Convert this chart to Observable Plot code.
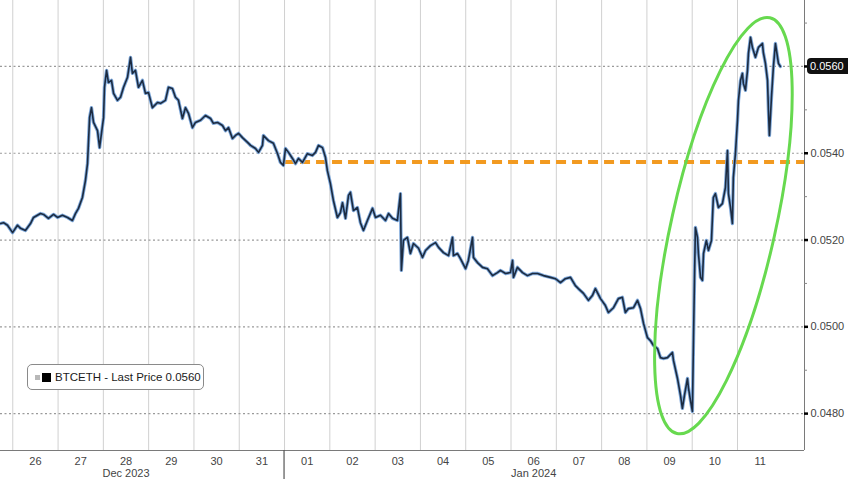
<!DOCTYPE html>
<html><head><meta charset="utf-8">
<script src="https://cdn.jsdelivr.net/npm/d3@7"></script>
<script src="https://cdn.jsdelivr.net/npm/@observablehq/plot@0.6"></script>
<style>
body{margin:0;background:#fff;}
#wrap{position:relative;width:848px;height:479px;overflow:hidden;font-family:"Liberation Sans",Arial,sans-serif;background:#fff;}
#legend{position:absolute;left:27px;top:364px;width:177px;height:26px;border:1.5px solid #8a8a8a;border-radius:5px;background:#fff;box-sizing:border-box;display:flex;align-items:center;font-size:11.5px;color:#1a1a1a;white-space:nowrap;}
#legend .sq1{display:inline-block;width:5px;height:5px;background:#b8b8b8;margin-left:7px;}
#legend .sq2{display:inline-block;width:9px;height:9px;background:#000;margin-left:2px;}
#legend .lab{margin-left:4px;}
</style></head>
<body><div id="wrap"></div>
<script>
// ---- data ----
const seriesName = "BTCETH";
const seriesStart = "2023-12-25T00:00:00Z";
const hours = [17.5,19.1,21.2,23.9,26.5,28.1,30.7,33.4,35.0,38.7,40.3,42.9,45.6,47.7,50.3,53.0,55.6,57.2,58.8,60.9,
62.5,63.6,64.7,65.7,66.8,68.9,70.0,71.0,72.1,72.6,73.7,74.7,76.3,77.4,79.5,81.1,82.7,84.8,86.4,87.4,
89.0,90.6,92.7,94.3,95.9,98.0,100.7,102.3,104.9,106.5,108.6,110.2,111.8,113.9,115.5,117.1,119.2,120.8,123.5,126.1,
128.8,130.3,132.5,135.1,136.7,138.3,140.4,142.0,143.6,145.7,148.4,150.0,152.6,154.2,156.3,156.8,157.9,159.5,162.1,164.3,
165.8,167.4,168.5,170.1,172.2,173.8,175.4,177.5,180.1,182.8,184.4,186.0,188.1,189.7,190.7,192.3,193.9,196.0,197.6,198.7,
200.3,201.9,202.9,204.5,206.6,208.2,209.8,211.9,214.6,216.2,218.8,221.5,223.1,225.2,227.8,229.4,229.9,231.0,233.1,234.7,
236.3,239.0,241.1,242.7,245.3,248.0,249.6,252.2,254.9,257.0,257.5,259.6,261.2,263.9,265.4,267.6,268.1,270.2,272.9,275.5,
278.2,280.8,282.4,285.1,287.7,288.8,289.3,291.4,294.1,296.7,299.4,302.0,305.2,308.9,311.5,314.2,316.8,319.5,322.1,323.7,
326.4,329.0,331.1,332.7,335.4,338.0,339.6,342.3,344.9,347.0,348.6,350.2,352.9,355.0,356.6,358.2,360.3,361.9,363.5,365.6,
367.2,368.8,370.9,373.5,374.1,376.2,377.8,378.8,379.9,381.5,382.0,383.1,384.1,384.7,385.2,385.7,386.8,387.3,388.4,389.4,
390.0,391.5,392.6,394.2,395.2,396.3,397.9,400.0,401.6,402.7,403.2,404.3,405.3,405.8,406.9,408.0,408.5,409.6,410.6,411.1,
412.2,413.3,413.8,414.9,415.9,417.5,419.1,421.2,421.7,422.8,423.9,424.4,424.9,426.0,427.0,428.1,429.2,429.7,430.7];
const btceth = [0.05238,0.05240,0.05234,0.05217,0.05234,0.05227,0.05222,0.05238,0.05252,0.05261,0.05259,0.05250,0.05259,0.05252,0.05257,0.05252,0.05245,0.05261,0.05273,0.05298,
0.05337,0.05376,0.05482,0.05505,0.05471,0.05452,0.05413,0.05446,0.05482,0.05552,0.05591,0.05563,0.05568,0.05538,0.05522,0.05529,0.05552,0.05575,0.05621,0.05584,
0.05591,0.05552,0.05568,0.05538,0.05540,0.05505,0.05517,0.05515,0.05522,0.05552,0.05549,0.05529,0.05522,0.05480,0.05505,0.05492,0.05459,0.05471,0.05476,0.05487,
0.05480,0.05469,0.05471,0.05464,0.05452,0.05459,0.05434,0.05441,0.05446,0.05436,0.05425,0.05418,0.05411,0.05402,0.05418,0.05441,0.05436,0.05429,0.05423,0.05399,
0.05379,0.05372,0.05411,0.05402,0.05388,0.05376,0.05388,0.05379,0.05399,0.05395,0.05402,0.05418,0.05413,0.05390,0.05360,0.05330,0.05291,0.05252,0.05263,0.05286,
0.05250,0.05303,0.05310,0.05268,0.05275,0.05240,0.05222,0.05245,0.05273,0.05252,0.05257,0.05245,0.05261,0.05250,0.05245,0.05307,0.05130,0.05199,0.05206,0.05169,
0.05192,0.05181,0.05160,0.05176,0.05187,0.05194,0.05183,0.05171,0.05164,0.05206,0.05164,0.05169,0.05157,0.05134,0.05153,0.05206,0.05160,0.05148,0.05137,0.05134,
0.05118,0.05125,0.05130,0.05123,0.05125,0.05153,0.05114,0.05137,0.05125,0.05118,0.05123,0.05123,0.05118,0.05114,0.05111,0.05102,0.05111,0.05114,0.05095,0.05088,
0.05077,0.05061,0.05072,0.05088,0.05065,0.05049,0.05033,0.05044,0.05065,0.05068,0.05033,0.05042,0.05044,0.05061,0.05042,0.05008,0.04975,0.04968,0.04957,0.04950,
0.04929,0.04927,0.04929,0.04941,0.04922,0.04881,0.04842,0.04812,0.04842,0.04881,0.04860,0.04830,0.04805,0.04975,0.05107,0.05229,0.05206,0.05169,0.05114,0.05107,
0.05169,0.05199,0.05176,0.05199,0.05298,0.05307,0.05275,0.05284,0.05321,0.05406,0.05307,0.05275,0.05238,0.05344,0.05399,0.05476,0.05522,0.05568,0.05584,0.05561,
0.05545,0.05591,0.05630,0.05667,0.05644,0.05621,0.05644,0.05653,0.05632,0.05607,0.05568,0.05499,0.05441,0.05529,0.05598,0.05653,0.05621,0.05607,0.05600];
const yTicks = [0.048, 0.050, 0.052, 0.054, 0.056];
const yMinorTicks = [0.049, 0.051, 0.053, 0.055, 0.057];
const refLevel = 0.0538;
const refStart = "2024-01-01T00:00:00Z";
const lastPrice = 0.0560;
const dayLabels = ["26","27","28","29","30","31","01","02","03","04","05","06","07","08","09","10","11"];
const dayDates = ["2023-12-26","2023-12-27","2023-12-28","2023-12-29","2023-12-30","2023-12-31","2024-01-01","2024-01-02","2024-01-03","2024-01-04","2024-01-05","2024-01-06","2024-01-07","2024-01-08","2024-01-09","2024-01-10","2024-01-11"];
const monthLabels = ["Dec 2023", "Jan 2024"];
const monthDates = ["2023-12-28", "2024-01-06"];
const yearBreak = "2024-01-01T00:00:00Z";
const xDomain = ["2023-12-25T17:30:00Z", "2024-01-12T11:30:00Z"];
const yDomain = [0.04715, 0.05752];
const ellipseCenter = {date: "2024-01-10T16:48:00Z", value: 0.05232};

// ---- build ----
const t0 = new Date(seriesStart).getTime();
const data = hours.map((h, i) => ({date: new Date(t0 + h * 3600e3), value: btceth[i]}));
const xMin = new Date(xDomain[0]), xMax = new Date(xDomain[1]);
const W = 848, H = 479, mR = 44, mB = 29;
const msPerPx = (xMax - xMin) / (W - mR);
const xTick = (px) => new Date(xMax.getTime() + px * msPerPx);
const days = dayDates.map((d, i) => ({start: new Date(d + "T00:00:00Z"), noon: new Date(d + "T12:00:00Z"), label: dayLabels[i]}));
const months = monthDates.map((d, i) => ({noon: new Date(d + "T12:00:00Z"), label: monthLabels[i]}));
const fmt = d3.format(".4f");
const labelTicks = yTicks.filter(d => Math.abs(d - lastPrice) > 1e-9);

const plot = Plot.plot({
  width: W, height: H,
  marginTop: 0, marginLeft: 0, marginRight: mR, marginBottom: mB,
  style: {fontFamily: '"Liberation Sans", Arial, sans-serif', fontSize: "11px", background: "#fff", overflow: "visible"},
  x: {type: "utc", domain: [xMin, xMax], axis: null},
  y: {domain: yDomain, axis: null},
  marks: [
    Plot.ruleX(days, {x: "start", stroke: "#d0d0d0", strokeWidth: 1}),
    Plot.ruleY(yTicks, {stroke: "#9a9a9a", strokeWidth: 1.2, strokeDasharray: "2,2.5"}),
    Plot.ruleY([refLevel], {x1: new Date(refStart), x2: xMax, stroke: "#f29a20", strokeWidth: 4, strokeDasharray: "10,6"}),
    Plot.line(data, {x: "date", y: "value", stroke: "#7fa9db", strokeWidth: 3.4}),
    Plot.line(data, {x: "date", y: "value", stroke: "#1c2b40", strokeWidth: 1.6}),
    Plot.ruleX([xMax], {stroke: "#7a7a7a", strokeWidth: 1}),
    Plot.ruleY([yDomain[0]], {stroke: "#7a7a7a", strokeWidth: 1}),
    Plot.ruleY(yMinorTicks, {x1: xMax, x2: xTick(3), stroke: "#888", strokeWidth: 1}),
    Plot.ruleY(yTicks, {x1: xMax, x2: xTick(4), stroke: "#000", strokeWidth: 2.5}),
    Plot.text(labelTicks, {x: xMax, y: d => d, text: d => fmt(d), dx: 6, textAnchor: "start", fill: "#444", fontSize: 11}),
    Plot.text(days, {x: "noon", y: yDomain[0], text: "label", dy: 11, fill: "#444", fontSize: 11}),
    Plot.text(months, {x: "noon", y: yDomain[0], text: "label", dy: 23, fill: "#444", fontSize: 11})
  ]
});

const X = plot.scale("x"), Y = plot.scale("y");
const svg = d3.select(plot);
// year separator below the axis
const xb = X.apply(new Date(yearBreak));
svg.append("line").attr("x1", xb).attr("x2", xb).attr("y1", H - mB).attr("y2", H)
  .attr("stroke", "#555").attr("stroke-width", 1.2);
// highlight ellipse
const cx = X.apply(new Date(ellipseCenter.date)), cy = Y.apply(ellipseCenter.value);
svg.append("ellipse").attr("cx", 0).attr("cy", 0).attr("rx", 52).attr("ry", 213)
  .attr("transform", `translate(${cx},${cy}) rotate(12.6)`)
  .attr("fill", "none").attr("stroke", "#67d94f").attr("stroke-width", 3);
// last price tag
const ly = Y.apply(lastPrice), lx = X.apply(xMax);
svg.append("rect").attr("x", lx + 3).attr("y", ly - 8).attr("width", 46).attr("height", 16).attr("rx", 4).attr("fill", "#111");
svg.append("text").attr("x", lx + 6).attr("y", ly).attr("dy", "0.35em").attr("fill", "#fff")
  .attr("text-anchor", "start").attr("font-size", 11).text(fmt(lastPrice));

const wrap = document.getElementById("wrap");
wrap.appendChild(plot);
const lg = document.createElement("div");
lg.id = "legend";
lg.innerHTML = `<span class="sq1"></span><span class="sq2"></span><span class="lab"></span>`;
lg.querySelector(".lab").textContent = `${seriesName} - Last Price ${fmt(lastPrice)}`;
wrap.appendChild(lg);
</script>
</body></html>
